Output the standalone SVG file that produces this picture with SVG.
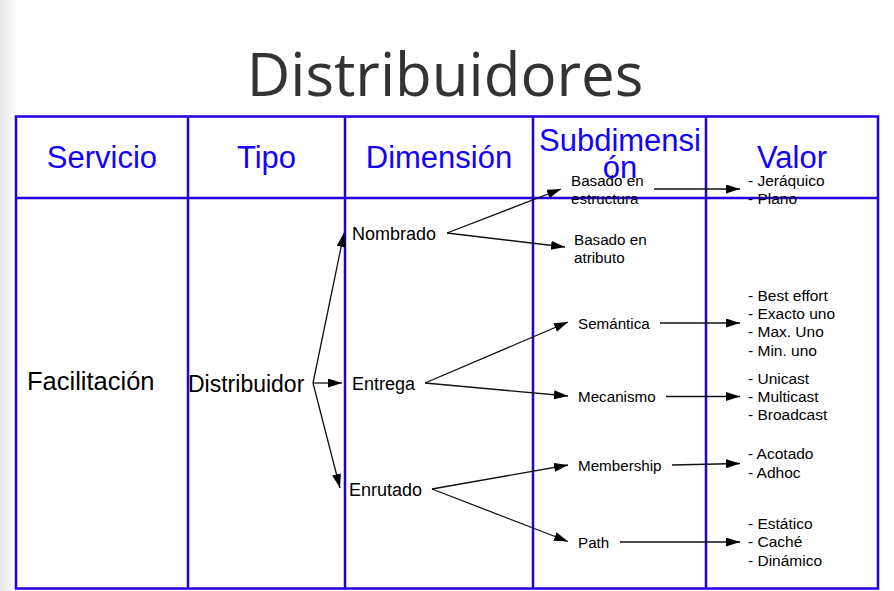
<svg xmlns="http://www.w3.org/2000/svg" width="894" height="591" viewBox="0 0 894 591">
<defs>
<linearGradient id="lg" x1="0" y1="0" x2="1" y2="0">
<stop offset="0" stop-color="#e8e8e8"/>
<stop offset="1" stop-color="#ffffff"/>
</linearGradient>
<marker id="ah" markerUnits="userSpaceOnUse" markerWidth="15" markerHeight="10" refX="14" refY="4.5" orient="auto">
<path d="M0,0 L14,4.5 L0,9 z" fill="#000"/>
</marker>
<style>
text{font-family:"Liberation Sans",Arial,sans-serif;}
.title{font-family:"Open Sans","Liberation Sans",sans-serif;font-size:60px;fill:#333;}
.hd{font-size:31px;fill:#1400ff;}
.big{font-size:25.5px;fill:#000;}
.dim{font-size:18px;fill:#000;}
.sub{font-size:15.2px;fill:#000;}
.val{font-size:15.5px;fill:#000;}
.grid{stroke:#2200dd;stroke-width:2.5;fill:none;}
.c{stroke:#111;stroke-width:1.3;fill:none;marker-end:url(#ah);}
</style>
</defs>
<rect width="894" height="591" fill="#fff"/>
<rect x="0" y="0" width="18" height="591" fill="url(#lg)"/>
<text class="title" x="445" y="95.5" text-anchor="middle">Distribuidores</text>
<g id="table">
<rect class="grid" x="16" y="116.5" width="862" height="472"/>
<line class="grid" x1="16" y1="198" x2="878" y2="198"/>
<line class="grid" x1="188" y1="116" x2="188" y2="589"/>
<line class="grid" x1="345" y1="116" x2="345" y2="589"/>
<line class="grid" x1="533" y1="116" x2="533" y2="589"/>
<line class="grid" x1="706" y1="116" x2="706" y2="589"/>
</g>
<g id="headers">
<text class="hd" x="102" y="168" text-anchor="middle">Servicio</text>
<text class="hd" x="266.5" y="168" text-anchor="middle">Tipo</text>
<text class="hd" x="439" y="168" text-anchor="middle">Dimensión</text>
<text class="hd" x="620" y="151" text-anchor="middle">Subdimensi</text>
<text class="hd" x="620" y="178" text-anchor="middle">ón</text>
<text class="hd" x="792" y="168" text-anchor="middle">Valor</text>
</g>
<g id="connectors">
<path class="c" d="M313,383 L344,233"/>
<path class="c" d="M313,383 L342,383"/>
<path class="c" d="M313,383 L340,488"/>
<path class="c" d="M447,233 L561,189"/>
<path class="c" d="M447,233 L565,247"/>
<path class="c" d="M654,189 L740,189"/>
<path class="c" d="M425,383 L568,322"/>
<path class="c" d="M425,383 L568,396"/>
<path class="c" d="M660,323 L740,323"/>
<path class="c" d="M666,396.5 L740,396.5"/>
<path class="c" d="M432,489 L568,465"/>
<path class="c" d="M432,489 L568,541.5"/>
<path class="c" d="M672,465 L740,463.5"/>
<path class="c" d="M620,542 L740,542"/>
</g>
<g id="facilitacion"><text class="big" x="27" y="390">Facilitación</text></g>
<g id="distribuidor"><text class="big" x="188" y="392" style="font-size:23px">Distribuidor</text></g>
<g id="nombrado"><text class="dim" x="352" y="240">Nombrado</text></g>
<g id="entrega"><text class="dim" x="352" y="390">Entrega</text></g>
<g id="enrutado"><text class="dim" x="349" y="496">Enrutado</text></g>
<g id="estructura"><text class="sub" x="571" y="186">Basado en</text><text class="sub" x="571" y="204">estructura</text></g>
<g id="atributo"><text class="sub" x="574" y="245">Basado en</text><text class="sub" x="574" y="263">atributo</text></g>
<g id="semantica"><text class="sub" x="578" y="329">Semántica</text></g>
<g id="mecanismo"><text class="sub" x="578" y="402">Mecanismo</text></g>
<g id="membership"><text class="sub" x="578" y="471">Membership</text></g>
<g id="path"><text class="sub" x="578" y="548">Path</text></g>
<g id="v-estructura"><text class="val" x="748" y="186">- Jeráquico</text><text class="val" x="748" y="204">- Plano</text></g>
<g id="v-semantica"><text class="val" x="748" y="300.5">- Best effort</text><text class="val" x="748" y="318.5">- Exacto uno</text><text class="val" x="748" y="337">- Max. Uno</text><text class="val" x="748" y="356">- Min. uno</text></g>
<g id="v-mecanismo"><text class="val" x="748" y="383.5">- Unicast</text><text class="val" x="748" y="402">- Multicast</text><text class="val" x="748" y="420">- Broadcast</text></g>
<g id="v-membership"><text class="val" x="748" y="459">- Acotado</text><text class="val" x="748" y="478">- Adhoc</text></g>
<g id="v-path"><text class="val" x="748" y="529">- Estático</text><text class="val" x="748" y="547">- Caché</text><text class="val" x="748" y="566">- Dinámico</text></g>
</svg>
